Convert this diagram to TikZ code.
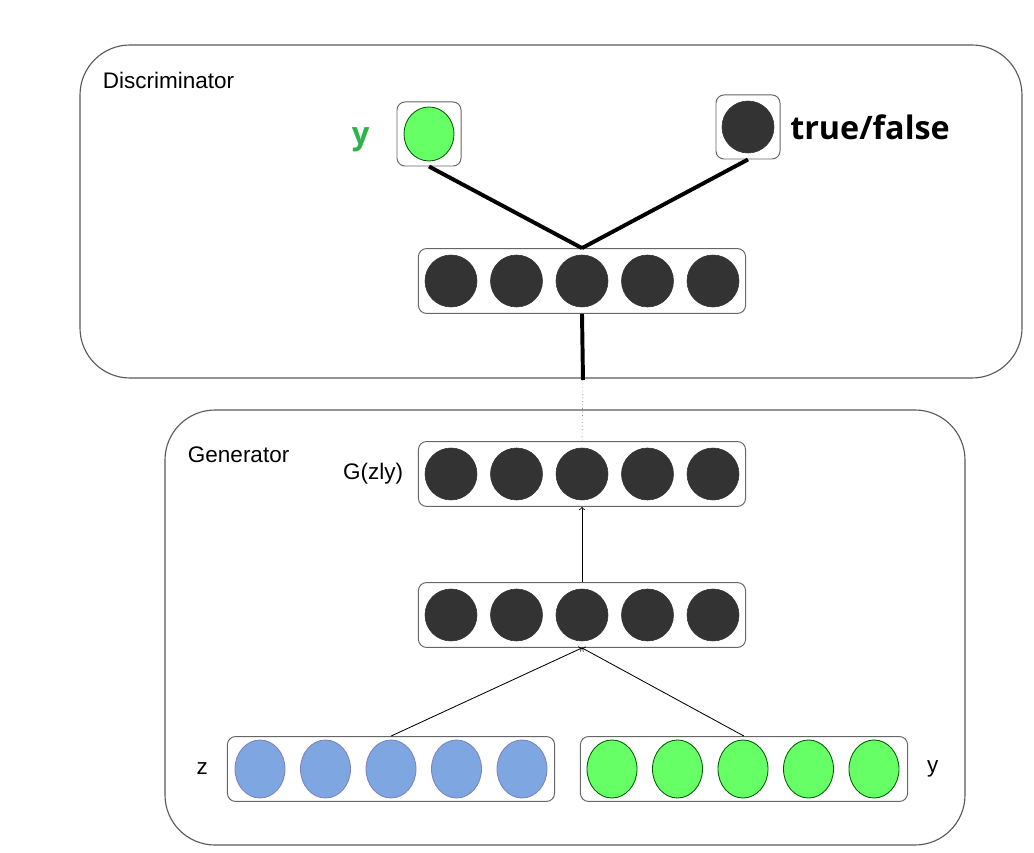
\documentclass[tikz,border=0pt]{standalone}
\usepackage{fontspec}
\setmainfont{Liberation Sans}
\newfontfamily\boldsans{Open Sans}
\usetikzlibrary{positioning,shapes.geometric}

\definecolor{unitdark}{HTML}{333333}
\definecolor{unitblue}{HTML}{7EA6E0}
\definecolor{unitgreen}{HTML}{66FF66}
\definecolor{labelgreen}{HTML}{2DB34A}

\tikzset{
  panel/.style={draw=black!65, line width=0.8pt, rounded corners=1.25cm},
  layer/.style={draw=black!60, line width=0.7pt, rounded corners=0.2cm, minimum width=8.175cm, minimum height=1.62cm},
  cellbox/.style={draw=black!60, line width=0.7pt, rounded corners=0.2cm, minimum size=1.6cm},
  unit/.style={circle, fill=unitdark, draw=unitdark, minimum size=1.3cm, inner sep=0pt},
  zunit/.style={ellipse, fill=unitblue, draw=black!50!blue!50, line width=0.6pt, minimum width=1.25cm, minimum height=1.45cm, inner sep=0pt},
  yunit/.style={ellipse, fill=unitgreen, draw=green!35!black, line width=0.6pt, minimum width=1.25cm, minimum height=1.45cm, inner sep=0pt},
  thickline/.style={line width=2.8pt},
  thinarrow/.style={->, line width=0.6pt},
  lbl/.style={font=\fontsize{16}{19}\selectfont}
}

\begin{document}
\begin{tikzpicture}[x=0.025cm, y=-0.025cm]
  \useasboundingbox (0,0) rectangle (1034,853);

  % the two panels
  \draw[panel] (80,45) rectangle (1022,378);
  \draw[panel] (165,410) rectangle (965,845);
  \node[lbl, anchor=west] (dlabel) at (98,80) {Discriminator};
  \node[lbl, anchor=west] (glabel) at (183,455) {Generator};

  % discriminator outputs
  \node[cellbox] (yout) at (429,134) {};
  \node[yunit, minimum width=1.25cm, minimum height=1.35cm] (ycell) at (yout) {};
  \node[left=0.55cm of yout, yshift=-0.15cm, text=labelgreen, font=\boldsans\bfseries\fontsize{22}{24}\selectfont] (ytext) {y};
  \node[cellbox] (tfout) at (748,127) {};
  \node[unit, minimum width=1.2cm, minimum height=1.3cm] (tfcell) at (tfout) {};
  \node[right=0.12cm of tfout, font=\boldsans\bfseries\fontsize{23}{26}\selectfont] (tftext) {true/false};

  % layers
  \node[layer] (dh) at (582,281) {};
  \node[layer] (go) at (582,474) {};
  \node[layer] (gh) at (582,615) {};
  \node[layer] (zin) at (391,769) {};
  \node[layer] (yin) at (744,769) {};
  \foreach \i in {1,...,5} {
    \node[unit] (dh\i) at ({451+65.5*(\i-1)},281) {};
    \node[unit] (go\i) at ({451+65.5*(\i-1)},474) {};
    \node[unit] (gh\i) at ({451+65.5*(\i-1)},615) {};
    \node[zunit] (zin\i) at ({260+65.5*(\i-1)},769) {};
    \node[yunit] (yin\i) at ({612+65.5*(\i-1)},769) {};
  }
  \node[lbl, left=0.25cm of go] (gotext) {G(zly)};
  \node[lbl, left=0.35cm of zin] (ztext) {z};
  \node[lbl, right=0.35cm of yin] (yintext) {y};

  % connections
  \draw[thickline] (yout.south) -- (dh.north);
  \draw[thickline] (tfout.south) -- (dh.north);
  \coordinate (link) at (583,380);
  \draw[thickline] (dh.south) -- (link);
  \draw[dotted, black!50, line width=0.5pt] (link) -- (go.north);
  \draw[thinarrow] (gh.north) -- (go.south);
  \draw[thinarrow] (zin.north) -- (gh.south);
  \draw[thinarrow] (yin.north) -- (gh.south);
\end{tikzpicture}
\end{document}
